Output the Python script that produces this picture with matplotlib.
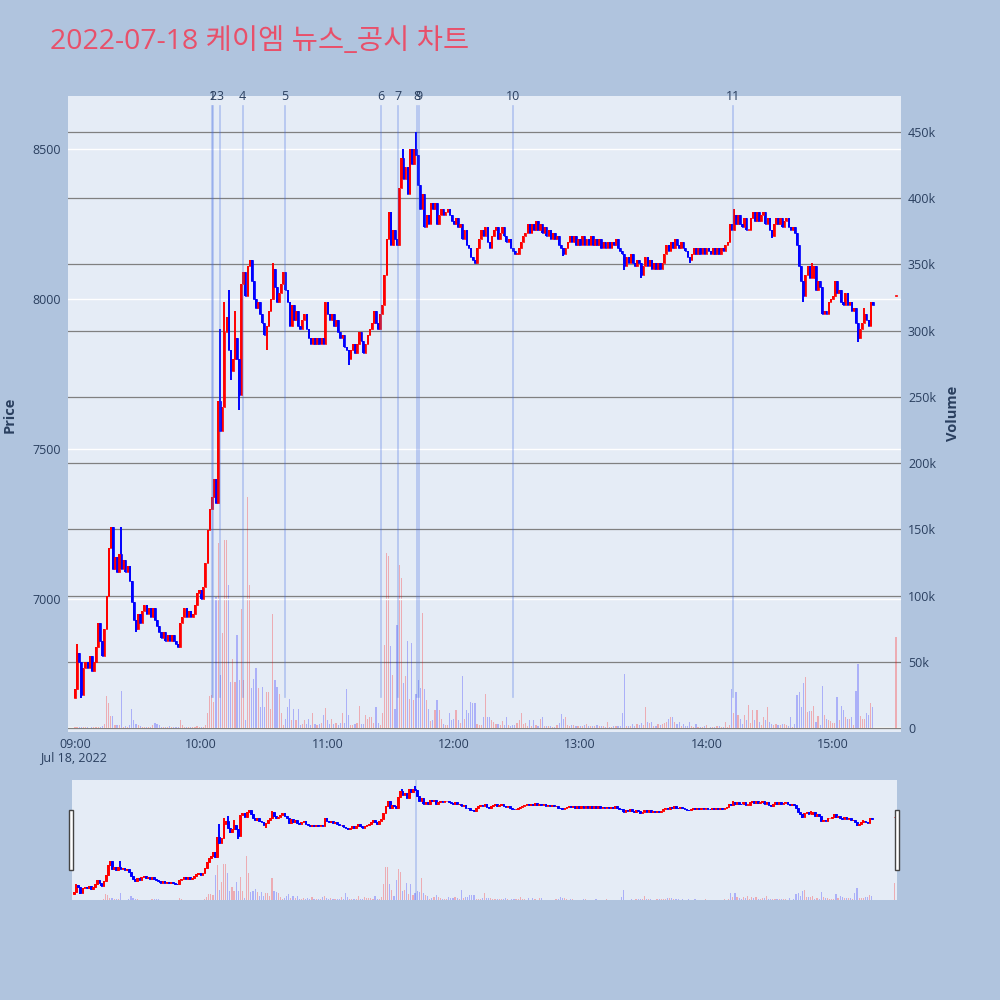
import matplotlib.pyplot as plt
import numpy as np
from matplotlib.patches import Rectangle
from matplotlib.ticker import FuncFormatter

plt.rcParams['font.family'] = ['Open Sans', 'Noto Sans CJK KR', 'DejaVu Sans']

title = '2022-07-18 케이엠 뉴스_공시 차트'
hour_labels = ['09:00', '10:00', '11:00', '12:00', '13:00', '14:00', '15:00']
date_label = 'Jul 18, 2022'

# 1-minute closes from 09:00, open of the first minute, closing auction at 15:30
first_open = 6670
closes = [
    6700, 6820, 6790, 6680, 6770, 6790, 6770, 6810, 6760, 6790,
    6840, 6920, 6860, 6810, 6900, 7010, 7170, 7240, 7100, 7140,
    7090, 7150, 7100, 7130, 7090, 7110, 7060, 6990, 6930, 6900,
    6950, 6920, 6960, 6980, 6950, 6970, 6940, 6970, 6930, 6910,
    6890, 6870, 6890, 6860, 6880, 6860, 6880, 6860, 6850, 6840,
    6920, 6940, 6970, 6940, 6960, 6940, 6950, 6980, 7020, 7030,
    7000, 7040, 7120, 7230, 7300, 7340, 7400, 7320, 7660, 7560,
    7640, 7890, 7940, 7830, 7760, 7800, 7870, 7800, 7680, 8050,
    8090, 8010, 8110, 8130, 8060, 8000, 7970, 7990, 7950, 7920,
    7880, 7910, 7960, 8000, 8100, 8040, 7990, 8020, 8050, 8090,
    8030, 7990, 7910, 7980, 7930, 7960, 7910, 7900, 7930, 7950,
    7900, 7870, 7850, 7870, 7850, 7870, 7850, 7870, 7850, 7990,
    7950, 7930, 7950, 7910, 7930, 7890, 7870, 7880, 7840, 7830,
    7800, 7830, 7850, 7820, 7850, 7890, 7860, 7820, 7850, 7880,
    7900, 7920, 7960, 7920, 7900, 7950, 7980, 8080, 8200, 8290,
    8180, 8230, 8200, 8180, 8370, 8470, 8400, 8440, 8350, 8500,
    8450, 8500, 8480, 8380, 8300, 8350, 8240, 8280, 8250, 8320,
    8300, 8320, 8250, 8280, 8300, 8280, 8290, 8300, 8280, 8260,
    8250, 8270, 8240, 8250, 8200, 8230, 8180, 8170, 8140, 8130,
    8120, 8170, 8200, 8230, 8210, 8240, 8190, 8170, 8210, 8230,
    8240, 8200, 8220, 8240, 8210, 8190, 8200, 8170, 8160, 8150,
    8150, 8170, 8190, 8210, 8220, 8250, 8220, 8250, 8230, 8260,
    8230, 8250, 8220, 8240, 8210, 8230, 8200, 8220, 8200, 8210,
    8180, 8170, 8150, 8170, 8190, 8210, 8190, 8210, 8180, 8200,
    8180, 8210, 8180, 8200, 8180, 8210, 8180, 8200, 8180, 8200,
    8170, 8190, 8170, 8190, 8170, 8190, 8180, 8200, 8170, 8160,
    8150, 8110, 8140, 8120, 8150, 8120, 8110, 8130, 8120, 8080,
    8110, 8140, 8110, 8130, 8100, 8120, 8100, 8120, 8100, 8120,
    8150, 8180, 8160, 8190, 8170, 8200, 8180, 8170, 8190, 8170,
    8160, 8140, 8130, 8150, 8170, 8150, 8170, 8150, 8170, 8150,
    8170, 8160, 8150, 8170, 8150, 8170, 8150, 8170, 8160, 8180,
    8190, 8250, 8230, 8280, 8250, 8280, 8250, 8240, 8270, 8230,
    8230, 8270, 8290, 8260, 8290, 8260, 8280, 8290, 8250, 8270,
    8230, 8210, 8250, 8270, 8250, 8270, 8240, 8260, 8270, 8240,
    8230, 8240, 8220, 8180, 8110, 8060, 8010, 8080, 8110, 8070,
    8070, 8110, 8030, 8060, 8040, 7950, 7960, 7950, 7990, 8000,
    8010, 8060, 8020, 8030, 7990, 7980, 8020, 7980, 7990, 7960,
    7970, 7920, 7870, 7900, 7920, 7950, 7930, 7910, 7990, 7980,
]
auction_minute = 390
auction_close = 8010

# wicks that reach beyond the body (minute: price)
wick_high = {1: 6850, 22: 7240, 69: 7900, 71: 7990, 73: 8030, 76: 7960, 94: 8120,
             156: 8500, 162: 8557, 313: 8300, 350: 8120, 375: 7970}
wick_low = {3: 6670, 29: 6890, 74: 7730, 78: 7630, 91: 7830, 130: 7780, 232: 8145,
            261: 8097, 269: 8070, 292: 8120, 331: 8205, 346: 7990, 372: 7857}

# volume per minute, thousands of shares
volume_k = [
    0.8, 1.0, 0.5, 0.6, 0.4, 0.7, 0.5, 0.3, 0.6, 0.8,
    0.6, 0.9, 0.7, 1.2, 3.0, 24, 19, 9, 9, 2,
    2.5, 2.0, 28, 1.0, 1.5, 1.0, 2.0, 14, 6, 3,
    2.0, 1.2, 0.8, 1.0, 0.6, 0.8, 1.0, 2.5, 4.0, 3.0,
    2.0, 1.0, 0.8, 1.0, 0.6, 1.2, 0.8, 1.0, 0.7, 1.0,
    6.0, 2.0, 0.8, 0.5, 0.6, 1.0, 0.8, 1.0, 1.5, 1.0,
    1.0, 0.8, 2.0, 11, 24, 25, 20, 99, 140, 40,
    72, 142, 142, 108, 35, 52, 35, 70, 36, 90,
    36, 6, 174, 108, 30, 37, 45, 30, 16, 31,
    16, 27, 27, 14, 86, 36, 31, 26, 11, 2,
    7, 16, 22, 6, 14, 6, 14, 2, 3, 6,
    3, 7, 2, 11, 3, 2, 3, 4, 10, 15,
    6, 3, 7, 3, 4, 2, 4, 11, 4, 29.5,
    10, 2, 2, 3, 4, 16.6, 3, 3, 10, 7,
    8, 8, 4, 15.6, 4, 2, 11, 63, 132, 130,
    62, 40, 14, 78, 123, 113, 34, 39, 66, 22,
    64, 21, 26, 36, 30, 87, 29.5, 21, 14, 5,
    6, 13.6, 21.5, 13.6, 6.5, 3, 2, 2, 11, 6,
    6.5, 13.6, 6, 4, 39, 7, 13.6, 11, 19.8, 18.6,
    18.6, 3, 2.2, 2.2, 8.6, 26, 8.6, 8.6, 6, 4.4,
    3, 3.1, 2, 5.5, 2, 8.6, 2.2, 1.9, 2, 2.2,
    3.5, 5.9, 11, 3.1, 3.5, 1.5, 6, 1.5, 6, 2.2,
    1.5, 7, 8, 1.5, 1.2, 1.5, 1.5, 1, 1, 2.2,
    3.5, 10.5, 6.5, 8.6, 2, 1.5, 2.5, 2.2, 1.2, 1.5,
    1.5, 1.2, 2.2, 2.8, 1.2, 1.5, 1.5, 1.2, 2.2, 1.2,
    1.5, 1.5, 1.0, 4.6, 1.0, 1.0, 1.2, 1.2, 1.5, 1.8,
    11, 40.5, 1.5, 1.2, 1.5, 3.1, 1.5, 2.8, 2.2, 3.5,
    2, 15.5, 4.4, 3.5, 4.4, 1.5, 1.2, 2.8, 2.2, 3.1,
    3.5, 4.6, 6.5, 8.6, 8.6, 4.4, 3.1, 4.6, 1.5, 3.1,
    1.2, 1.5, 4.6, 1.2, 1.0, 2.8, 1.0, 1.0, 1.0, 1.2,
    2.2, 0.3, 0.5, 1.0, 1.0, 1.5, 1.2, 0.8, 1.0, 4.6,
    1.0, 2.2, 29.6, 11, 27, 10, 6.5, 3.1, 10, 6,
    17.6, 3.5, 13.6, 6, 13.6, 4.4, 2.2, 8.6, 6, 15.6,
    4.4, 3.1, 2.2, 3.1, 2.2, 2.2, 3.1, 2.8, 2.2, 1.5,
    8, 0.8, 3.1, 25, 27, 15.6, 34, 38.5, 12.3, 12.8,
    12.8, 17, 4.4, 9, 2.2, 32, 10, 6.5, 6, 5.5,
    3.5, 3.5, 23.7, 6, 16.6, 13.6, 8, 7, 6.5, 8,
    2.2, 28, 48.5, 9, 6.5, 6.5, 11, 10, 18.6, 15.5,
]
auction_volume_k = 68.7

# news / disclosure times
news_times = ['10:05:06', '10:05:48', '10:08:54', '10:19:36', '10:39:48', '11:25:12',
              '11:33:24', '11:42:30', '11:43:24', '12:28:06', '14:12:30']
news_labels = ['1', '2', '3', '4', '5', '6', '7', '8', '9', '10', '11']


def to_min(s):
    hh, mm, ss = [int(x) for x in s.split(':')]
    return (hh - 9) * 60 + mm + ss / 60


t = np.r_[np.arange(len(closes)), auction_minute]
c = np.array(closes + [auction_close], dtype=float)
o = np.r_[first_open, c[:-1]]
o[-1] = c[-1]  # single-price closing auction
h = np.maximum(o, c)
l = np.minimum(o, c)
for k, val in wick_high.items():
    h[k] = max(h[k], val)
for k, val in wick_low.items():
    l[k] = min(l[k], val)
v = np.array(volume_k + [auction_volume_k]) * 1000
up = c >= o
ccol = np.where(up, '#ff0000', '#0000ff')
vcol = [(1, 0, 0, 0.27) if u else (0, 0, 1, 0.25) for u in up]
news_x = [to_min(s) for s in news_times]

BG = '#b0c4de'
PLOT = '#e5ecf6'
TXT = '#2a3f5f'
PRICE_LIM = (6557, 8677)
VOL_LIM = (-3000, 477000)


def draw_candles(ax, wick_lw, edge_lw, width):
    ax.vlines(t, l, h, colors=ccol, lw=wick_lw, zorder=3)
    body = np.maximum(np.abs(c - o), 4)
    ax.bar(t, body, bottom=np.minimum(o, c), width=width, color=ccol,
           edgecolor=ccol, linewidth=edge_lw, zorder=3)


fig = plt.figure(figsize=(10, 10), dpi=100, facecolor=BG)

# main chart
ax2 = fig.add_axes([0.068, 0.268, 0.833, 0.636])
ax = ax2.twinx()
ax.set_zorder(ax2.get_zorder() + 1)
ax.patch.set_visible(False)
ax2.set_facecolor(PLOT)

ax2.bar(t, v, width=0.55, color=vcol, zorder=2)
ax2.set_ylim(*VOL_LIM)
ax2.set_yticks(np.arange(0, 450001, 50000))
ax2.yaxis.set_major_formatter(FuncFormatter(lambda x, p: '0' if x == 0 else f'{int(x / 1000)}k'))
ax2.yaxis.tick_right()
ax2.grid(axis='y', color='#808080', lw=0.9)
ax2.axhline(0, color='white', lw=1.6, zorder=1)

draw_candles(ax, 1.4, 0.5, 0.7)
ax.set_ylim(*PRICE_LIM)
ax.set_yticks([7000, 7500, 8000, 8500])
ax.yaxis.tick_left()
ax.grid(axis='y', color='white', lw=1.0)
ax.set_axisbelow(True)

for x, lab in zip(news_x, news_labels):
    ax.axvline(x, ymin=0.055, ymax=0.984, color='royalblue', alpha=0.32, lw=1.2, zorder=4)
    ax.text(x, 1.0, lab, transform=ax.get_xaxis_transform(), ha='center', va='center',
            fontsize=9, color=TXT)

for a in (ax, ax2):
    a.set_xlim(-3.3, 392.4)
    for s in a.spines.values():
        s.set_visible(False)
    a.tick_params(length=0, labelsize=9, labelcolor=TXT, pad=5)
ax2.set_xticks(np.arange(0, 361, 60))
ax2.set_xticklabels(hour_labels)
ax2.tick_params(axis='x', pad=4)

fig.text(0.073, 1 - 0.758, date_label, ha='center', va='center', fontsize=9, color=TXT)
fig.text(0.010, 1 - 0.415, 'Price', rotation=90, ha='center', va='center', fontsize=10.5,
         fontweight='bold', color=TXT)
fig.text(0.953, 1 - 0.413, 'Volume', rotation=90, ha='center', va='center', fontsize=10.5,
         fontweight='bold', color=TXT)
fig.text(0.05, 1 - 0.042, title, ha='left', va='center', fontsize=20.5, color='#e8506a')

# range slider
sv = fig.add_axes([0.072, 0.100, 0.825, 0.120])
sp = sv.twinx()
sp.set_zorder(sv.get_zorder() + 1)
sp.patch.set_visible(False)
sv.set_facecolor(PLOT)
sv.bar(t, v, width=0.55, color=vcol)
sv.set_ylim(0, 477000)
draw_candles(sp, 1.4, 0.7, 0.8)
sp.set_ylim(6565, 8662)
sp.axvline(news_x[7], color='royalblue', alpha=0.3, lw=1.2)
for a in (sv, sp):
    a.set_xlim(-1, 391)
    a.set_xticks([])
    a.set_yticks([])
    for s in a.spines.values():
        s.set_visible(False)

for hx in (0.069, 0.895):
    fig.patches.append(Rectangle((hx, 1 - 0.870), 0.004, 0.060, transform=fig.transFigure,
                                 facecolor='white', edgecolor='#444444', lw=1))

fig.savefig('out.png', dpi=100, facecolor=BG)
